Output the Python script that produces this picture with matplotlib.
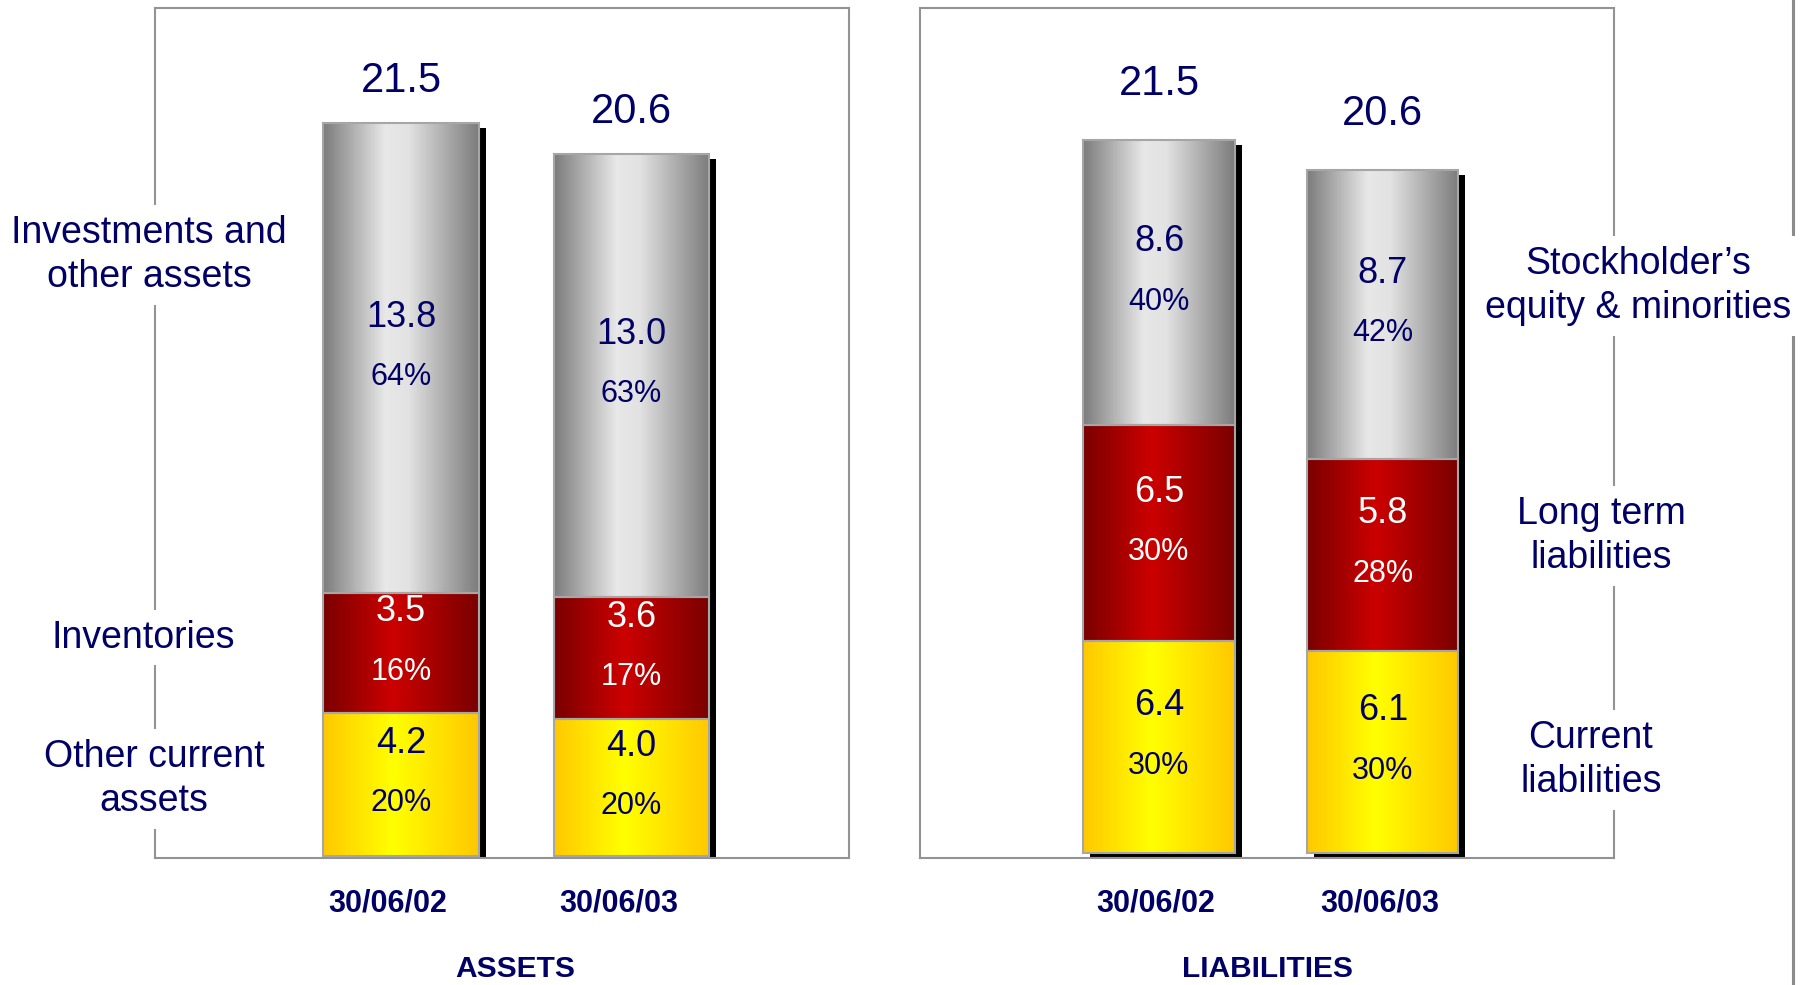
import matplotlib
matplotlib.use('Agg')
import matplotlib.pyplot as plt
import numpy as np
from matplotlib.colors import LinearSegmentedColormap
from matplotlib.transforms import offset_copy, blended_transform_factory

plt.rcParams['font.family'] = ['Liberation Sans', 'DejaVu Sans']

dates = ['30/06/02', '30/06/03']

# assets (bn)
other_current = [4.2, 4.0]
inventories = [3.5, 3.6]
investments = [13.8, 13.0]
assets_total = [21.5, 20.6]
other_current_pct = [20, 20]
inventories_pct = [16, 17]
investments_pct = [64, 63]

# liabilities (bn)
current_liab = [6.4, 6.1]
long_term = [6.5, 5.8]
equity = [8.6, 8.7]
liab_total = [21.5, 20.6]
current_liab_pct = [30, 30]
long_term_pct = [30, 28]
equity_pct = [40, 42]

navy = '#000066'
grey_cm = LinearSegmentedColormap.from_list('g', [(0, '#7c7c7c'), (0.4, '#e8e8e8'), (0.55, '#e2e2e2'), (1, '#7c7c7c')])
red_cm = LinearSegmentedColormap.from_list('r', [(0, '#7a0000'), (0.45, '#cc0000'), (1, '#7a0000')])
yel_cm = LinearSegmentedColormap.from_list('y', [(0, '#ffc800'), (0.45, '#ffff00'), (1, '#ffc800')])

fig = plt.figure(figsize=(18.01, 9.85), dpi=100)
ax1 = fig.add_axes([155/1801, 127/985, 694/1801, 850/985])
ax2 = fig.add_axes([920/1801, 127/985, 694/1801, 850/985])

grad = np.tile(np.linspace(0, 1, 512), (2, 1))
w = 0.675


def draw_stack(ax, segs, pcts, totals, cmaps, txtcols, top_off):
    x = np.arange(len(dates))
    # drop shadow
    sh = ax.bar(x, totals, w, color='black', zorder=1)
    for p in sh.patches:
        p.set_transform(offset_copy(ax.transData, fig=fig, x=7, y=-5, units='dots'))
    bottom = np.zeros(len(dates))
    for vals, pc, cm, tc in zip(segs, pcts, cmaps, txtcols):
        for i in range(len(dates)):
            ax.imshow(grad, extent=(x[i] - w/2, x[i] + w/2, bottom[i], bottom[i] + vals[i]),
                      cmap=cm, aspect='auto', interpolation='nearest', zorder=2)
            mid = bottom[i] + vals[i] / 2
            ax.annotate(f'{vals[i]:.1f}', (x[i], mid), xytext=(0, 41), textcoords='offset pixels',
                        ha='center', va='center', fontsize=26, color=tc, zorder=4)
            ax.annotate(f'{pc[i]}%', (x[i], mid), xytext=(0, -19), textcoords='offset pixels',
                        ha='center', va='center', fontsize=22, color=tc, zorder=4)
        ax.bar(x, vals, w, bottom=bottom, facecolor='none', edgecolor='#a6a6a6', lw=1.5, zorder=3)
        bottom = bottom + np.array(vals)
    for i in range(len(dates)):
        ax.annotate(f'{totals[i]:.1f}', (x[i], totals[i]), xytext=(0, top_off), textcoords='offset pixels',
                    ha='center', va='center', fontsize=30, color=navy)


draw_stack(ax1, [other_current, inventories, investments],
           [other_current_pct, inventories_pct, investments_pct], assets_total,
           [yel_cm, red_cm, grey_cm], [navy, 'white', navy], 42)
draw_stack(ax2, [current_liab, long_term, equity],
           [current_liab_pct, long_term_pct, equity_pct], liab_total,
           [yel_cm, red_cm, grey_cm], [navy, 'white', navy], 56)

ax1.set_xlim(-1.068, 1.945)
ax1.set_ylim(-0.073, 24.89)
ax2.set_xlim(-1.068, 2.033)
ax2.set_ylim(-0.151, 25.49)

for ax, dx, title, tx, ty in [(ax1, -13, 'ASSETS', 0.495, -0.131), (ax2, -3, 'LIABILITIES', 0.483, -0.131)]:
    ax.set_xticks([])
    ax.set_yticks([])
    for s in ax.spines.values():
        s.set_color('#939393')
        s.set_linewidth(1.5)
    bt = blended_transform_factory(ax.transData, ax.transAxes)
    for i, d in enumerate(dates):
        ax.text(i, -0.054, d, transform=offset_copy(bt, fig=fig, x=dx, units='dots'),
                ha='center', va='center', fontsize=22, fontweight='bold', color=navy)
    ax.text(tx, ty, title, transform=bt, ha='center', va='center',
            fontsize=21.5, fontweight='bold', color=navy)

box = dict(facecolor='white', edgecolor='none', pad=7)
side = dict(ha='center', va='center', fontsize=27, color=navy, linespacing=1.28, bbox=box, zorder=5)
ax1.text(-1.094, 17.64, 'Investments and\nother assets', **side)
ax1.text(-1.118, 6.40, 'Inventories', **side)
ax1.text(-1.072, 2.25, 'Other current\nassets', **side)
ax2.text(2.140, 17.10, 'Stockholder\u2019s\nequity & minorities', **side)
ax2.text(1.975, 9.56, 'Long term\nliabilities', **side)
ax2.text(1.930, 2.81, 'Current\nliabilities', **side)

# separator line at the far right
ax2.plot([2.833, 2.833], [-0.2, 1.1], transform=blended_transform_factory(ax2.transData, ax2.transAxes),
         color='#8c8c8c', lw=2.2, clip_on=False, zorder=1)

fig.savefig('out.png', dpi=100)
